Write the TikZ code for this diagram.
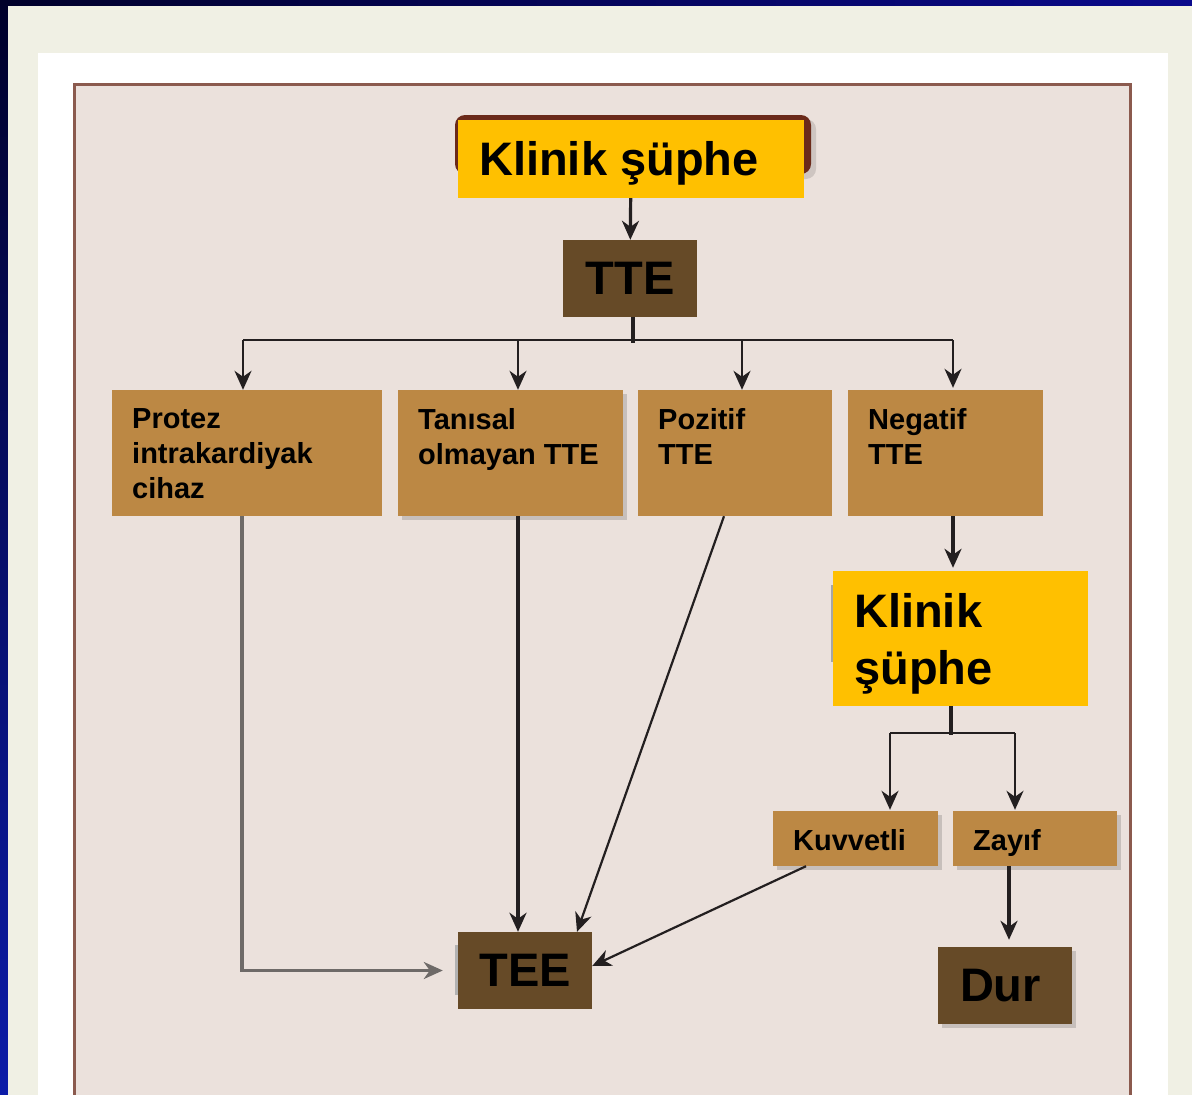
\documentclass[tikz,border=0pt]{standalone}
\usepackage{fontspec}
\setmainfont{Liberation Sans}
\usetikzlibrary{arrows.meta,shadows,calc}
\definecolor{yel}{HTML}{FFC000}
\definecolor{boxtan}{HTML}{BC8844}
\definecolor{dbrown}{HTML}{664A27}
\definecolor{pinkbg}{HTML}{EBE1DC}
\definecolor{creambg}{HTML}{F0F0E4}
\definecolor{framec}{HTML}{8B5A4E}
\definecolor{rbrown}{HTML}{6B2A1A}
\definecolor{linec}{HTML}{231F20}
\definecolor{grayline}{HTML}{6E6A68}
\definecolor{navyA}{HTML}{00002A}
\definecolor{navyB}{HTML}{0A0A8C}
\definecolor{navyC}{HTML}{0C1CA8}
\tikzset{
  ybox/.style={fill=yel, draw=none, inner sep=0pt},
  tbox/.style={fill=boxtan, draw=none, inner sep=0pt},
  dbox/.style={fill=dbrown, draw=none, inner sep=0pt, text=black,
    font=\fontsize{47}{57}\selectfont\bfseries},
  bigtext/.style={inner sep=0pt, anchor=north west, align=left, text=black,
    font=\fontsize{47}{57}\selectfont\bfseries},
  smalltext/.style={inner sep=0pt, anchor=north west, align=left, text=black,
    font=\fontsize{29}{35}\selectfont\bfseries},
  tip/.style={-{Stealth[length=19pt,width=17pt,inset=6pt]}},
  arr/.style={draw=linec, line width=3.2pt, tip},
  thinarr/.style={draw=linec, line width=2.2pt, tip},
  busline/.style={draw=linec, line width=2.4pt},
  stem/.style={draw=linec, line width=4.2pt},
  softshadow/.style={drop shadow={shadow xshift=4pt, shadow yshift=-4pt, opacity=0.15, fill=black}},
}
\begin{document}
\begin{tikzpicture}[x=1pt,y=-1pt]
\useasboundingbox (0,0) rectangle (1192,1095);
% background
\shade[left color=navyA, right color=navyB] (0,0) rectangle (1192,8);
\shade[top color=navyA, bottom color=navyC] (0,0) rectangle (10,1095);
\fill[creambg] (8,6) rectangle (1192,1095);
\fill[white] (38,53) rectangle (1168,1095);
\fill[pinkbg] (74.5,84.5) rectangle (1130.5,1110);
\draw[framec, line width=2.5pt] (74.5,1110) -- (74.5,84.5) -- (1130.5,84.5) -- (1130.5,1110);

% top clinical suspicion
\fill[black, opacity=0.12, rounded corners=10pt] (459,119) rectangle (816,179);
\fill[rbrown, rounded corners=10pt] (455,115) rectangle (811,174);
\node[ybox, minimum width=346pt, minimum height=78pt] (k1) at (631,159) {};
\node[bigtext] at (479,141) {Klinik şüphe};

% TTE
\node[dbox, minimum width=134pt, minimum height=77pt] (tte) at (630,278.5) {TTE};

% second row boxes
\node[tbox, minimum width=270pt, minimum height=126pt] (prot) at (247,453) {};
\node[tbox, softshadow, minimum width=225pt, minimum height=126pt] (tan) at (510.5,453) {};
\node[tbox, minimum width=194pt, minimum height=126pt] (poz) at (735,453) {};
\node[tbox, minimum width=195pt, minimum height=126pt] (neg) at (945.5,453) {};
\node[smalltext] at (132,408) {Protez\\intrakardiyak\\cihaz};
\node[smalltext] at (418,408) {Tanısal\\olmayan TTE};
\node[smalltext] at (658,408) {Pozitif\\TTE};
\node[smalltext] at (868,408) {Negatif\\TTE};

% second clinical suspicion
\fill[gray!70] (830.5,585) rectangle (833,662);
\node[ybox, minimum width=255pt, minimum height=135pt] (k2) at (960.5,638.5) {};
\node[bigtext] at (854,593) {Klinik\\şüphe};

% Kuvvetli / Zayif
\node[tbox, softshadow, minimum width=165pt, minimum height=55pt] (kuv) at (855.5,838.5) {};
\node[tbox, softshadow, minimum width=164pt, minimum height=55pt] (zay) at (1035,838.5) {};
\node[smalltext] at (793,829) {Kuvvetli};
\node[smalltext] at (973,829) {Zayıf};

% TEE and Dur
\fill[gray!60] (455,945) rectangle (458,995);
\node[dbox, minimum width=134pt, minimum height=77pt] (tee) at (525,970.5) {TEE};
\node[dbox, softshadow, minimum width=134pt, minimum height=77pt, text width=90pt, align=left] (dur) at (1005,985.5) {Dur};

% connectors
\draw[arr] (k1) -- (tte);
\coordinate (bus) at (633,340);
\draw[stem] (tte.south -| bus) -- ([yshift=-3pt]bus);
\coordinate (b1) at (243,340);
\coordinate (b2) at (518,340);
\coordinate (b3) at (742,340);
\coordinate (b4) at (953,340);
\draw[busline] (b1) -- (b4);
\draw[arr, line width=2.4pt] (b1) -- (b1 |- prot.north);
\draw[arr, line width=2.4pt] (b2) -- (b2 |- tan.north);
\draw[arr, line width=2.4pt] (b3) -- (b3 |- poz.north);
\draw[arr, line width=2.4pt] (b4) -- ([yshift=2pt]b4 |- neg.north);

\draw[arr] ([xshift=7.5pt]neg.south) -- ([xshift=7.5pt,yshift=3pt]neg.south |- k2.north);

\coordinate (c0) at (951,733);
\coordinate (c1) at (890,733);
\coordinate (c2) at (1015,733);
\draw[stem] (k2.south -| c0) -- ([yshift=-2pt]c0);
\draw[busline] (c1) -- (c2);
\draw[arr, line width=2.4pt] (c1) -- ([yshift=1pt]c1 |- kuv.north);
\draw[arr, line width=2.4pt] (c2) -- ([yshift=1pt]c2 |- zay.north);

\draw[arr] ([xshift=4pt]dur.north |- zay.south) -- ([xshift=4pt,yshift=7pt]dur.north);

\draw[draw=grayline, line width=3.2pt, tip, shorten >=15pt]
  ([xshift=-5pt]prot.south) |- (tee.west);
\draw[arr, line width=3.4pt] ([xshift=7.5pt]tan.south) -- ([xshift=-7pt]tee.north);
\draw[thinarr] ([xshift=-11pt]poz.south) -- ([xshift=52pt]tee.north);
\draw[thinarr] ([xshift=-49.5pt]kuv.south) -- ([yshift=4.5pt]tee.east);
\end{tikzpicture}
\end{document}
